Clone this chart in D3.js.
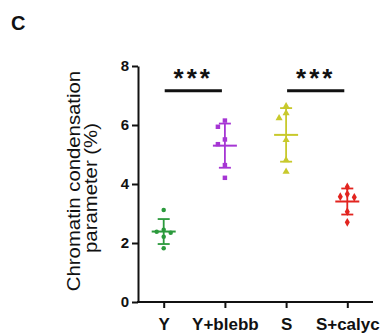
<!DOCTYPE html>
<html>
<head>
<meta charset="utf-8">
<script src="https://cdn.jsdelivr.net/npm/d3@7"></script>
<style>
  html, body { margin: 0; padding: 0; background: #fff; }
  svg { display: block; }
</style>
</head>
<body>
<svg id="chart" width="383" height="335"></svg>
<script>
// ---- data ----
const categories = ["Y", "Y+blebb", "S", "S+calyc"];
const valuesY      = [3.12, 2.45, 2.38, 2.35, 2.21, 1.82];
const valuesBlebb  = [6.15, 5.94, 5.51, 5.35, 4.64, 4.21];
const valuesS      = [6.64, 6.40, 6.23, 5.49, 4.81, 4.42];
const valuesCalyc  = [3.90, 3.66, 3.57, 3.55, 3.06, 2.70];
const yTicks = [0, 2, 4, 6, 8];
const comparisons = [["Y", "Y+blebb", "***"], ["S", "S+calyc", "***"]];
const panelLabel = "C";
const yLabelLines = ["Chromatin condensation", "parameter (%)"];

// ---- styles ----
const colors = ["#2b9a3c", "#a636d4", "#c8c92c", "#e2241f"];
const shapes = [d3.symbolCircle, d3.symbolSquare, d3.symbolTriangle, d3.symbolDiamond];
const shapeSizes = [16, 20, 22, 22];
const groups = [valuesY, valuesBlebb, valuesS, valuesCalyc];
const font = "Liberation Sans, Arial, sans-serif";

const svg = d3.select("#chart");
const y = d3.scaleLinear().domain([0, 8]).range([302, 66]);
const x = d3.scalePoint().domain(categories).range([138, 373]).padding(0.42);

// y axis
const yAxis = svg.append("g").attr("transform", "translate(138,0)")
  .call(d3.axisLeft(y).tickValues(yTicks).tickSize(6).tickSizeOuter(0).tickPadding(3));
yAxis.selectAll("path, line").attr("stroke", "#111").attr("stroke-width", 2);
yAxis.selectAll("text").attr("font-family", font)
  .attr("font-weight", "bold").attr("font-size", 15).attr("fill", "#111");

// x axis
const xAxis = svg.append("g").attr("transform", "translate(0,302)")
  .call(d3.axisBottom(x).tickSize(6).tickSizeOuter(0).tickPadding(10));
xAxis.selectAll("path, line").attr("stroke", "#111").attr("stroke-width", 2);
xAxis.select("path.domain").attr("d", "M137,0H373");
xAxis.selectAll("text").attr("font-family", font)
  .attr("font-weight", "bold").attr("font-size", 17).attr("fill", "#111");

// y label
const yl = svg.append("g").attr("font-family", font)
  .attr("font-size", 18).attr("fill", "#111").attr("text-anchor", "middle");
yl.append("text").attr("transform", "translate(80,181) rotate(-90) scale(1.13,1)").text(yLabelLines[0]);
yl.append("text").attr("transform", "translate(97,188) rotate(-90) scale(1.13,1)").text(yLabelLines[1]);

// panel label
svg.append("text").attr("x", 11).attr("y", 30)
  .attr("font-family", font).attr("font-weight", "bold")
  .attr("font-size", 20).attr("fill", "#111").text(panelLabel);

// beeswarm-like placement
function arrange(vals) {
  const placed = [];
  const order = vals.map((v, i) => ({v, i})).sort((a, b) => b.v - a.v);
  const d = 7;
  const cands = [0, -d, d, -2 * d, 2 * d];
  order.forEach(p => {
    const py = y(p.v);
    let off = 0;
    for (const c of cands) {
      if (!placed.some(q => Math.abs(q.py - py) < 7 && Math.abs(q.off - c) < 7)) { off = c; break; }
    }
    placed.push({v: p.v, py, off});
  });
  return placed;
}

groups.forEach((vals, gi) => {
  const cx = x(categories[gi]);
  const m = d3.mean(vals), sd = d3.deviation(vals);
  const g = svg.append("g").attr("stroke", colors[gi]).attr("stroke-width", 1.8);
  g.append("line").attr("x1", cx).attr("x2", cx).attr("y1", y(m + sd)).attr("y2", y(m - sd));
  g.append("line").attr("x1", cx - 6).attr("x2", cx + 6).attr("y1", y(m + sd)).attr("y2", y(m + sd));
  g.append("line").attr("x1", cx - 6).attr("x2", cx + 6).attr("y1", y(m - sd)).attr("y2", y(m - sd));
  g.append("line").attr("x1", cx - 12).attr("x2", cx + 12).attr("y1", y(m)).attr("y2", y(m)).attr("stroke-width", 2);
  const pts = arrange(vals);
  svg.append("g").selectAll("path").data(pts).join("path")
    .attr("d", d3.symbol(shapes[gi], shapeSizes[gi]))
    .attr("transform", p => `translate(${cx + p.off},${p.py})`)
    .attr("fill", colors[gi]);
});

// significance bars
comparisons.forEach(([a, b, label]) => {
  const x1 = x(a) + 1, x2 = x(b) - 3;
  svg.append("line").attr("x1", x1).attr("x2", x2).attr("y1", y(7.16)).attr("y2", y(7.16))
    .attr("stroke", "#111").attr("stroke-width", 3);
  svg.append("text").attr("x", (x1 + x2) / 2).attr("y", y(7.16) - 4)
    .attr("text-anchor", "middle").attr("font-family", font)
    .attr("font-weight", "bold").attr("font-size", 26).attr("letter-spacing", 3)
    .attr("fill", "#111").text(label);
});
</script>
</body>
</html>
